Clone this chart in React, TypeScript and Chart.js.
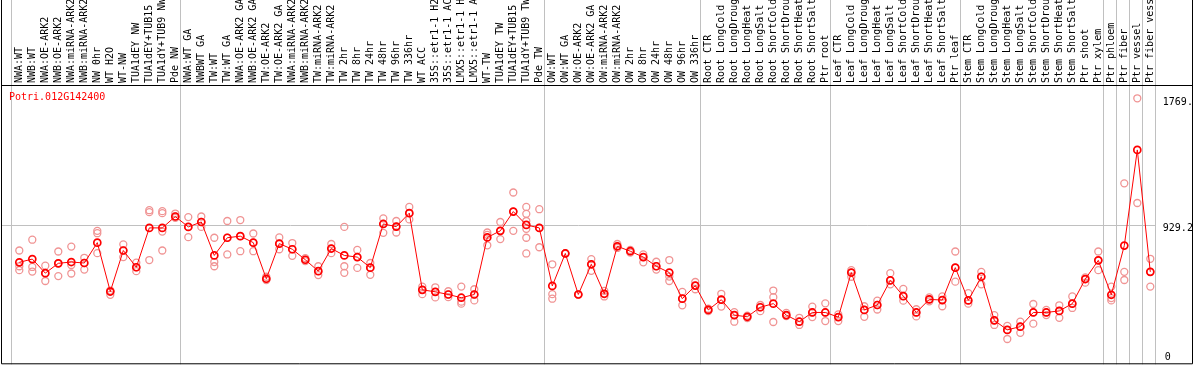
import React, { useEffect, useRef } from "react";
import { Chart, registerables } from "chart.js";

Chart.register(...registerables);

const geneId = "Potri.012G142400";

const categories = [
  "NWA:WT", "NWB:WT", "NWA:OE-ARK2", "NWB:OE-ARK2", "NWA:miRNA-ARK2", "NWB:miRNA-ARK2", "NW 0hr", "WT H2O", "WT-NW", "TUA1dEY NW", "TUA1dEY+TUB15", "TUA1dY+TUB9 NW", "Pde NW",
  "NWA:WT GA", "NWBWT GA", "TW:WT", "TW:WT GA", "NWA:OE-ARK2 GA", "NWB:OE-ARK2 GA", "TW:OE-ARK2", "TW:OE-ARK2 GA", "NWA:miRNA-ARK2 GA", "NWB:miRNA-ARK2 GA", "TW:miRNA-ARK2", "TW:miRNA-ARK2 GA",
  "TW 2hr", "TW 8hr", "TW 24hr", "TW 48hr", "TW 96hr", "TW 336hr", "WT ACC", "35S::etr1-1 H2O", "35S::etr1-1 ACC", "LMX5::etr1-1 H2O", "LMX5::etr1-1 ACC", "WT-TW", "TUA1dEY TW", "TUA1dEY+TUB15", "TUA1dY+TUB9 TW", "Pde TW",
  "OW:WT", "OW:WT GA", "OW:OE-ARK2", "OW:OE-ARK2 GA", "OW:miRNA-ARK2", "OW:miRNA-ARK2 GA", "OW 2hr", "OW 8hr", "OW 24hr", "OW 48hr", "OW 96hr", "OW 336hr",
  "Root CTR", "Root LongCold", "Root LongDrought", "Root LongHeat", "Root LongSalt", "Root ShortCold", "Root ShortDrought", "Root ShortHeat", "Root ShortSalt", "Ptr root",
  "Leaf CTR", "Leaf LongCold", "Leaf LongDrought", "Leaf LongHeat", "Leaf LongSalt", "Leaf ShortCold", "Leaf ShortDrought", "Leaf ShortHeat", "Leaf ShortSalt", "Ptr leaf",
  "Stem CTR", "Stem LongCold", "Stem LongDrought", "Stem LongHeat", "Stem LongSalt", "Stem ShortCold", "Stem ShortDrought", "Stem ShortHeat", "Stem ShortSalt", "Ptr shoot",
  "Ptr xylem", "Ptr phloem", "Ptr fiber", "Ptr vessel", "Ptr fiber vessel",
];

const means = [
  678.6, 700.2, 606.6, 672.0, 680.5, 674.0, 809.5, 484.2, 757.1, 645.9,
  907.6, 907.6, 983.5, 914.2, 946.9, 724.4, 842.2, 852.6, 809.5, 569.3,
  802.9, 765.6, 695.6, 619.7, 770.2, 724.4, 713.3, 643.2, 933.8, 916.1,
  1005.8, 495.4, 482.3, 464.6, 443.0, 464.6, 844.1, 888.0, 1016.2, 927.2,
  907.6, 521.5, 737.5, 464.6, 665.5, 469.2, 785.2, 752.5, 713.3, 652.4,
  610.5, 436.5, 523.5, 361.9, 429.9, 327.2, 316.1, 379.5, 403.7, 327.2,
  283.3, 344.9, 344.9, 314.1, 610.5, 361.9, 394.6, 558.2, 453.5, 344.9,
  431.9, 427.3, 643.2, 425.3, 582.4, 292.5, 229.0, 250.6, 344.9, 344.9,
  355.3, 403.7, 567.3, 691.7, 462.6, 789.8, 1426.5, 615.1,
];

const replicates = [
  [757.1, 652.4, 626.2], [829.1, 647.8, 617.1], [656.3, 606.6, 554.3], [750.6, 672.0, 587.0],
  [783.3, 660.9, 604.0], [708.7, 674.0, 630.2], [888.0, 872.3, 739.4], [490.8, 484.2, 462.6],
  [798.3, 757.1, 713.3], [676.0, 645.9, 619.7], [1025.4, 1012.3, 693.6], [1018.8, 1005.8, 883.4, 757.1],
  [1003.1, 983.5, 975.0], [979.6, 914.2, 846.1], [983.5, 946.9, 914.2], [842.2, 680.5, 652.4],
  [953.4, 842.2, 730.9], [959.9, 852.6, 752.5], [870.3, 809.5, 752.5], [582.4, 569.3, 560.8],
  [844.1, 802.9, 765.6], [806.8, 765.6, 721.8], [706.7, 695.6, 687.1], [652.4, 619.7, 593.5],
  [800.3, 770.2, 739.4], [914.2, 652.4, 608.6], [761.0, 713.3, 641.3], [674.0, 643.2, 595.5],
  [970.4, 933.8, 874.9], [953.4, 916.1, 876.9], [1047.0, 1005.8, 963.9], [517.0, 495.4, 466.6],
  [512.4, 482.3, 445.0], [486.2, 464.6, 446.9], [517.0, 416.8, 403.7], [499.3, 464.6, 425.3],
  [876.9, 861.8, 791.8], [946.9, 888.0, 833.0], [1143.2, 1016.2, 888.0],
  [1047.0, 1001.2, 953.4, 901.1, 842.2, 737.5], [1031.9, 907.6, 778.7], [665.5, 466.6, 436.5],
  [740.0, 737.5, 735.0], [467.0, 464.6, 462.0], [700.2, 665.5, 621.7], [488.8, 469.2, 451.5],
  [800.3, 785.2, 774.1], [761.0, 752.5, 744.0], [730.9, 713.3, 678.6], [682.5, 652.4, 630.2],
  [693.6, 583.7, 554.3], [482.3, 436.5, 392.6], [547.7, 523.5, 499.3], [369.7, 361.9, 353.4],
  [469.2, 429.9, 384.1], [346.8, 327.2, 283.3], [323.9, 316.1, 307.6], [394.6, 379.5, 353.4],
  [490.8, 446.9, 281.4], [342.2, 327.2, 320.6], [309.5, 283.3, 261.7], [384.1, 344.9, 314.1],
  [405.7, 344.9, 287.9], [331.8, 314.1, 287.9], [626.2, 610.5, 582.4], [386.1, 361.9, 316.1],
  [423.4, 394.6, 364.5], [606.6, 558.2, 532.0], [501.9, 453.5, 423.4], [366.4, 344.9, 318.7],
  [445.0, 431.9, 418.8], [451.5, 427.3, 386.1], [750.6, 643.2, 549.7], [473.1, 425.3, 403.7],
  [615.1, 582.4, 532.0], [327.2, 292.5, 261.7], [255.2, 229.0, 168.2], [283.3, 250.6, 209.4],
  [401.1, 344.9, 270.3], [361.9, 344.9, 327.2], [392.6, 355.3, 309.5], [451.5, 403.7, 375.0],
  [577.8, 567.3, 543.1], [750.6, 691.7, 626.2], [517.0, 440.4, 425.3], [1204.0, 615.1, 560.8],
  [1769.9, 1073.2], [702.1, 615.1, 517.0],
];

const yTicks = [0, 929.2, 1769.9];
const yMax = 1858.4;
// number of categories after which a grey separator is drawn (0 = left edge)
const groupEnds = [0, 13, 41, 53, 63, 73, 84, 85, 86, 87, 88];

const MONO = "'DejaVu Sans Mono', monospace";

const framePlugin = {
  id: "frame",
  beforeDatasetsDraw(chart: any) {
    const { ctx, chartArea, scales } = chart;
    const x = scales.x;
    const y = scales.y;
    ctx.save();
    ctx.strokeStyle = "#c0c0c0";
    ctx.lineWidth = 1;
    let lastX = chartArea.right;
    for (const b of groupEnds) {
      const px = Math.round(x.getPixelForValue(b - 0.5) - 1.5) + 0.5;
      lastX = px;
      ctx.beginPath();
      ctx.moveTo(px, 0);
      ctx.lineTo(px, chartArea.bottom);
      ctx.stroke();
    }
    const gy = Math.round(y.getPixelForValue(yTicks[1])) + 0.5;
    ctx.beginPath();
    ctx.moveTo(2, gy);
    ctx.lineTo(lastX, gy);
    ctx.stroke();
    ctx.restore();
  },
  afterDraw(chart: any) {
    const { ctx, chartArea, scales, width } = chart;
    const y = scales.y;
    ctx.save();
    ctx.strokeStyle = "#000";
    ctx.lineWidth = 1;
    ctx.beginPath();
    ctx.moveTo(1.5, 0);
    ctx.lineTo(1.5, chartArea.bottom - 0.5);
    ctx.lineTo(width - 1.5, chartArea.bottom - 0.5);
    ctx.lineTo(width - 1.5, 0);
    ctx.moveTo(1, chartArea.top + 0.5);
    ctx.lineTo(width - 1, chartArea.top + 0.5);
    ctx.stroke();
    ctx.fillStyle = "#ff0000";
    ctx.font = `10px ${MONO}`;
    ctx.textAlign = "left";
    ctx.textBaseline = "alphabetic";
    ctx.fillText(geneId, 9, chartArea.top + 15);
    ctx.beginPath();
    ctx.rect(0, 0, width - 2, chart.height);
    ctx.clip();
    ctx.fillStyle = "#000";
    const lx = chartArea.right + 6;
    yTicks.forEach((v) => {
      const py = y.getPixelForValue(v);
      if (v === 0) {
        ctx.textBaseline = "bottom";
        ctx.fillText(String(v), lx + 2, py - 2);
      } else {
        ctx.textBaseline = "top";
        ctx.fillText(String(v), lx, py - 1);
      }
    });
    ctx.restore();
  },
};

export default function App() {
  const ref = useRef<HTMLCanvasElement | null>(null);
  useEffect(() => {
    document.body.style.margin = "0";
    document.documentElement.style.overflow = "hidden";
    const canvas = ref.current;
    if (!canvas) return;
    const maxReps = Math.max(...replicates.map((r) => r.length));
    const repDatasets = Array.from({ length: maxReps }, (_, k) => ({
      type: "line" as const,
      label: `replicate ${k + 1}`,
      data: replicates.map((r) => (k < r.length ? r[k] : null)),
      showLine: false,
      borderColor: "#f09494",
      pointBorderColor: "#f09494",
      pointBackgroundColor: "rgba(0,0,0,0)",
      pointRadius: 3.5,
      pointBorderWidth: 1.3,
      order: 1,
    }));
    const chart = new Chart(canvas, {
      type: "line",
      data: {
        labels: categories,
        datasets: [
          {
            type: "line",
            label: "mean",
            data: means,
            borderColor: "#ff0000",
            borderWidth: 1,
            pointRadius: 3.5,
            pointBorderWidth: 1.7,
            pointBorderColor: "#ff0000",
            pointBackgroundColor: "rgba(0,0,0,0)",
            tension: 0,
            order: 0,
          },
          ...repDatasets,
        ] as any,
      },
      options: {
        animation: false,
        responsive: true,
        maintainAspectRatio: false,
        layout: { padding: { left: 12.8, right: 37.2, top: 0, bottom: 1 } },
        plugins: { legend: { display: false }, tooltip: { enabled: false }, title: { display: false } },
        scales: {
          x: {
            type: "category",
            position: "top",
            offset: true,
            grid: { display: false, drawTicks: false },
            border: { display: false },
            afterFit: (s: any) => {
              s.height = 85;
            },
            ticks: {
              autoSkip: false,
              minRotation: 90,
              maxRotation: 90,
              padding: 2,
              labelOffset: 12,
              color: "#000",
              font: { family: MONO, size: 10 },
            },
          },
          y: {
            type: "linear",
            display: false,
            min: 0,
            max: yMax,
          },
        },
      },
      plugins: [framePlugin],
    });
    return () => chart.destroy();
  }, []);
  return (
    <div style={{ position: "relative", width: 1194, height: 370 }}>
      <canvas ref={ref} />
    </div>
  );
}
